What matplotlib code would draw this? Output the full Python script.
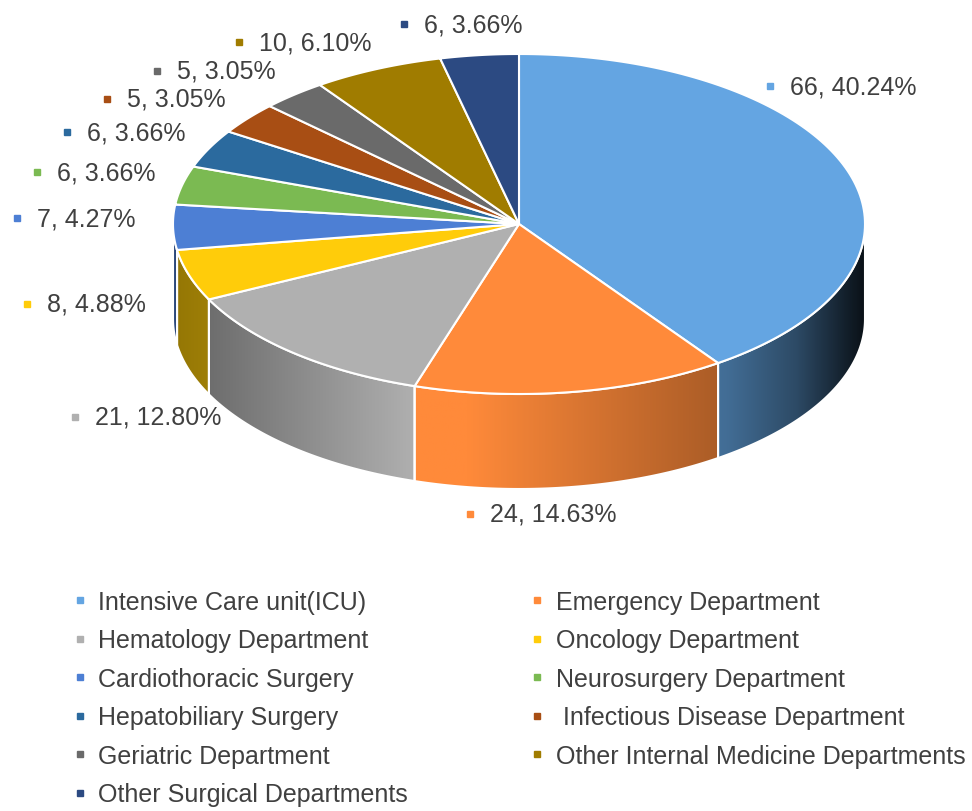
import numpy as np
import matplotlib
matplotlib.use('Agg')
import matplotlib.pyplot as plt
from matplotlib.patches import Polygon
from matplotlib.lines import Line2D

# data
departments = ['Intensive Care unit(ICU)', 'Emergency Department', 'Hematology Department',
               'Oncology Department', 'Cardiothoracic Surgery', 'Neurosurgery Department',
               'Hepatobiliary Surgery', ' Infectious Disease Department', 'Geriatric Department',
               'Other Internal Medicine Departments', 'Other Surgical Departments']
counts = [66, 24, 21, 8, 7, 6, 6, 5, 5, 10, 6]
colors = ['#64A5E2', '#FF8A3A', '#B0B0B0', '#FFCC0A', '#4D7FD4', '#7BBA52',
          '#2B6A9E', '#A84E14', '#6A6A6A', '#A07C00', '#2C4A82']

# layout (pixels): where each data label's text starts
label_xy = [(790, 87), (490, 515), (95, 418), (47, 305), (37, 219), (57, 173),
            (87, 133), (127, 100), (177, 72), (259, 43), (424, 25)]

plt.rcParams['font.family'] = ['Liberation Sans', 'DejaVu Sans']

fig = plt.figure(figsize=(9.72, 8.12), dpi=100)
ax = fig.add_axes([0, 0, 1, 1])
ax.set_xlim(0, 972)
ax.set_ylim(812, 0)
ax.axis('off')

cx, cy, rx, ry, depth = 519, 225, 346, 170, 95
total = sum(counts)
cum = np.concatenate([[0], np.cumsum(counts)]) / total
angles = np.pi / 2 - 2 * np.pi * cum


def ell(t):
    return cx + rx * np.cos(t), cy - ry * np.sin(t)


# side shading across x
gx = np.linspace(-1, 1, 600)
shade = np.interp(gx, [-1, -0.9, -0.3, -0.15, 0.6, 0.8, 0.95, 1.0],
                  [0.58, 0.62, 1.0, 1.0, 0.66, 0.45, 0.18, 0.1])

# front walls
for i, c in enumerate(colors):
    hi = min(angles[i], 0)
    lo = max(angles[i + 1], -np.pi)
    if lo >= hi:
        continue
    t = np.linspace(hi, lo, 80)
    x, y = ell(t)
    pts = np.vstack([np.column_stack([x, y]), np.column_stack([x[::-1], y[::-1] + depth])])
    rgb = np.array(matplotlib.colors.to_rgb(c))
    img = np.clip(rgb[None, None, :] * shade[None, :, None], 0, 1)
    img = np.repeat(img, 2, axis=0)
    im = ax.imshow(img, extent=[cx - rx, cx + rx, cy + ry + depth + 5, cy - ry - 5],
                   aspect='auto', zorder=1)
    wall = Polygon(pts, closed=True, facecolor='none', edgecolor='white', lw=1.5, zorder=2)
    ax.add_patch(wall)
    im.set_clip_path(wall)

# top faces
for i, c in enumerate(colors):
    t = np.linspace(angles[i], angles[i + 1], 120)
    x, y = ell(t)
    pts = np.vstack([[cx, cy], np.column_stack([x, y])])
    ax.add_patch(Polygon(pts, closed=True, facecolor=c, edgecolor='white', lw=1.5, zorder=3))

# data labels
for (lx, ly), n, c in zip(label_xy, counts, colors):
    ax.plot(lx - 20, ly, marker='s', color=c, markersize=4.5, zorder=4)
    ax.text(lx, ly, f'{n}, {n / total * 100:.2f}%', fontsize=18, color='#404040',
            va='center', ha='left', zorder=4)

ax.set_xlim(0, 972)
ax.set_ylim(812, 0)

# legend, filled row by row
order = list(range(0, 11, 2)) + list(range(1, 11, 2))
handles = [Line2D([], [], marker='s', color=colors[k], ls='none', markersize=5) for k in order]
ax.legend(handles, [departments[k] for k in order], ncol=2, loc='upper left',
          bbox_to_anchor=(72 / 972, 1 - 591 / 812), frameon=False, fontsize=18,
          handlelength=0.6, handletextpad=0.45, labelspacing=0.58, columnspacing=4.85,
          borderpad=0, borderaxespad=0, labelcolor='#404040')

fig.savefig('out.png', dpi=100)
